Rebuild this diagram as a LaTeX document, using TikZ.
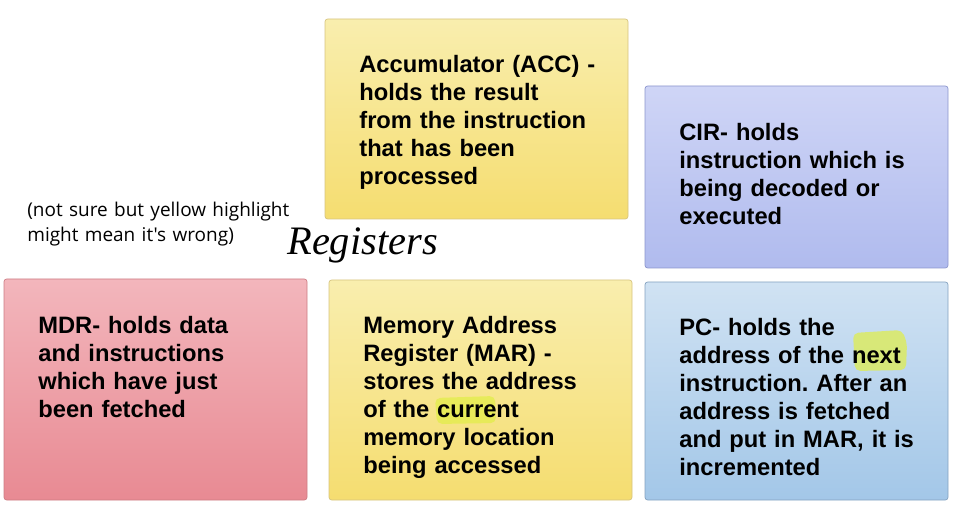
\documentclass[tikz,border=0pt]{standalone}
\usepackage{fontspec}
\setmainfont{Liberation Sans}
\newfontfamily\remarkfont{Open Sans}
\newfontfamily\handfont{Liberation Serif}
\usetikzlibrary{positioning}
\frenchspacing

\definecolor{yellowtop}{RGB}{249,238,174}
\definecolor{yellowbottom}{RGB}{245,221,112}
\definecolor{yellowborder}{RGB}{214,196,128}
\definecolor{bluetop}{RGB}{207,213,246}
\definecolor{bluebottom}{RGB}{176,187,238}
\definecolor{blueborder}{RGB}{140,150,205}
\definecolor{pinktop}{RGB}{243,182,188}
\definecolor{pinkbottom}{RGB}{232,138,147}
\definecolor{pinkborder}{RGB}{205,125,132}
\definecolor{skytop}{RGB}{208,226,243}
\definecolor{skybottom}{RGB}{163,199,232}
\definecolor{skyborder}{RGB}{132,162,192}
\definecolor{hilite}{RGB}{225,238,70}

\tikzset{
	sticky/.style={draw=#1border, top color=#1top, bottom color=#1bottom, rounded corners=1.5pt, line width=0.4pt},
	stickytext/.style={anchor=base west, inner sep=0pt, text width=60mm, align=left, font=\fontsize{13.5}{15.9}\selectfont\bfseries},
	marker/.style={fill=hilite, opacity=0.7, rounded corners=3pt},
}

\begin{document}
\begin{tikzpicture}[x=0.2mm, y=-0.2mm]
			%%%%% START %%%%%
			\useasboundingbox (0, 0) rectangle (962, 522);
			
			\draw[sticky=yellow] (325, 19) rectangle (628, 219);
			\draw[sticky=blue] (645, 86) rectangle (948, 268);
			\draw[sticky=pink] (4, 279) rectangle (307, 500);
			\draw[sticky=yellow] (329, 280) rectangle (632, 500);
			\draw[sticky=sky] (645, 282) rectangle (948, 500);
			
			\fill[marker] (435, 398) -- (495, 396) -- (496, 423) -- (437, 424) -- cycle;
			\fill[marker] (853, 333) -- (902, 330) -- (907, 343) -- (906, 370) -- (855, 371) -- cycle;
			
			\node[stickytext] (acc) at (359, 73) {Accumulator (ACC) -\\holds the result\\from the instruction\\that has been\\processed};
			\node[stickytext] (cir) at (679, 141) {CIR- holds\\instruction which is\\being decoded or\\executed};
			\node[stickytext] (mdr) at (38, 334) {MDR- holds data\\and instructions\\which have just\\been fetched};
			\node[stickytext] (mar) at (363, 334) {Memory Address\\Register (MAR) -\\stores the address\\of the current\\memory location\\being accessed};
			\node[stickytext] (pc) at (679, 336) {PC- holds the\\address of the next\\instruction. After an\\address is fetched\\and put in MAR, it is\\incremented};
			
			\node[anchor=base west, inner sep=0pt, text width=70mm, align=left, font=\remarkfont\fontsize{10.8}{13.8}\selectfont] (remark) at (27, 217) {(not sure but yellow highlight\\might mean it's wrong)};
			\node[anchor=base west, inner sep=0pt, font=\handfont\itshape\fontsize{23}{26}\selectfont] (title) at (287, 255) {Registers};
			
			%%%%% END %%%%%
\end{tikzpicture}
\end{document}
